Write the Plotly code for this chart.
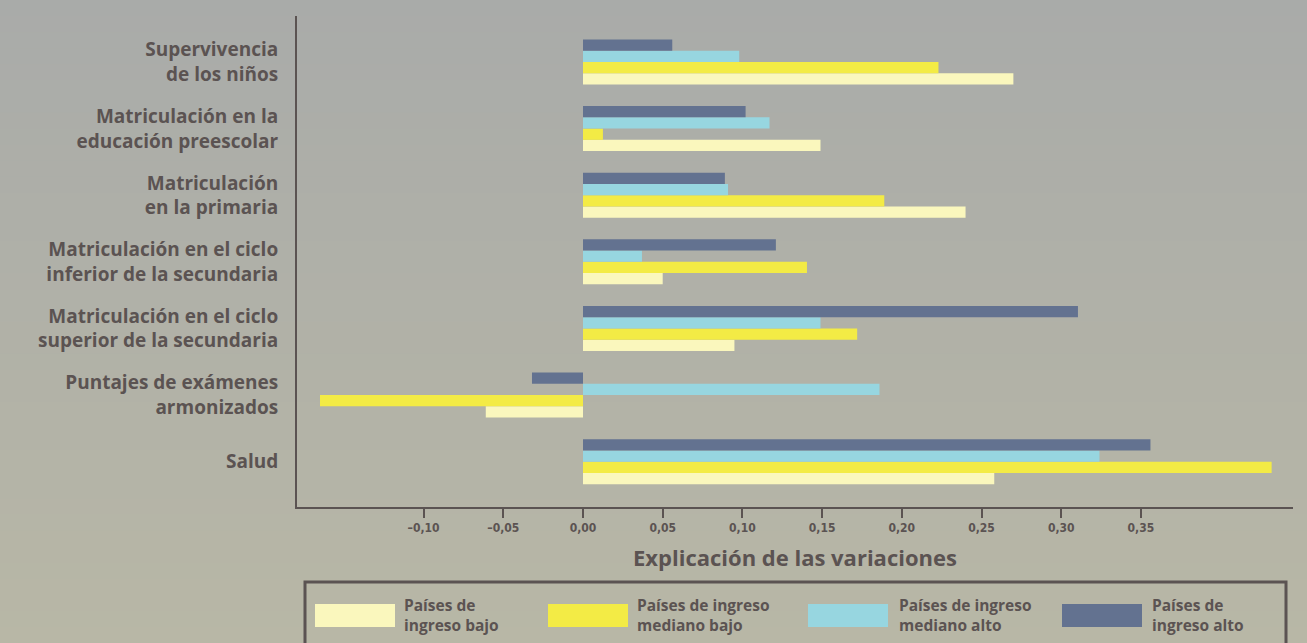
import plotly.graph_objects as go

categories = [
    "Supervivencia<br>de los niños",
    "Matriculación en la<br>educación preescolar",
    "Matriculación<br>en la primaria",
    "Matriculación en el ciclo<br>inferior de la secundaria",
    "Matriculación en el ciclo<br>superior de la secundaria",
    "Puntajes de exámenes<br>armonizados",
    "Salud",
]
series_names = [
    "Países de<br>ingreso bajo",
    "Países de ingreso<br>mediano bajo",
    "Países de ingreso<br>mediano alto",
    "Países de<br>ingreso alto",
]
ingreso_bajo = [0.270, 0.149, 0.240, 0.050, 0.095, -0.061, 0.258]
mediano_bajo = [0.223, 0.0125, 0.189, 0.1405, 0.172, -0.165, 0.432]
mediano_alto = [0.098, 0.117, 0.091, 0.037, 0.149, 0.186, 0.324]
ingreso_alto = [0.056, 0.102, 0.089, 0.121, 0.3105, -0.032, 0.356]
series_values = [ingreso_bajo, mediano_bajo, mediano_alto, ingreso_alto]
colors = ["#faf7bd", "#f3eb45", "#97d6e0", "#637290"]

tick_vals = [-0.10, -0.05, 0.0, 0.05, 0.10, 0.15, 0.20, 0.25, 0.30, 0.35]
tick_text = ["–0,10", "–0,05", "0,00", "0,05", "0,10", "0,15", "0,20", "0,25", "0,30", "0,35"]

W, H = 1307, 643
L, R, T, B = 297, 1293, 16, 507
TXT = "#5b5352"
FONT = "Open Sans"


def px(x):
    return (x - L) / (R - L)


def py(y):
    return (B - y) / (B - T)


fig = go.Figure()
for name, vals, col in zip(series_names, series_values, colors):
    fig.add_trace(go.Bar(
        y=categories, x=vals, orientation="h", name=name,
        marker=dict(color=col, line=dict(width=0)), showlegend=False,
    ))

shapes = []
# background gradient
top_c = (169, 171, 169)
bot_c = (184, 183, 166)
n = 40
for i in range(n):
    ya = H * i / n
    yb = H * (i + 1) / n + 1
    t = (i + 0.5) / n
    c = tuple(int(round(top_c[k] + (bot_c[k] - top_c[k]) * t)) for k in range(3))
    shapes.append(dict(type="rect", xref="paper", yref="paper", layer="below",
                       x0=px(-5), x1=px(W + 5), y0=py(yb), y1=py(ya),
                       fillcolor="rgb(%d,%d,%d)" % c, line=dict(width=0)))

# legend box
shapes.append(dict(type="rect", xref="paper", yref="paper",
                   x0=px(305), x1=px(1286), y0=py(655), y1=py(582),
                   line=dict(color=TXT, width=3), fillcolor="rgba(0,0,0,0)"))

annotations = []
sw_x = [315, 548, 808, 1062]
tx_x = [402, 635, 897, 1150]
for sx, tx, name, col in zip(sw_x, tx_x, series_names, colors):
    shapes.append(dict(type="rect", xref="paper", yref="paper",
                       x0=px(sx), x1=px(sx + 80), y0=py(627), y1=py(604),
                       fillcolor=col, line=dict(width=0)))
    annotations.append(dict(x=px(tx), y=py(615), xref="paper", yref="paper",
                            text="<b>%s</b>" % name, showarrow=False,
                            xanchor="left", yanchor="middle", align="left",
                            font=dict(family=FONT, size=15.5, color=TXT)))

annotations.append(dict(x=0.5, y=py(557), xref="paper", yref="paper",
                        text="<b>Explicación de las variaciones</b>", showarrow=False,
                        xanchor="center", yanchor="middle",
                        font=dict(family=FONT, size=22, color=TXT)))

fig.update_layout(
    width=W, height=H,
    margin=dict(l=L, r=W - R, t=T, b=H - B, pad=0),
    paper_bgcolor="#b0b1a7", plot_bgcolor="rgba(0,0,0,0)",
    barmode="group", bargap=0.324, bargroupgap=0,
    shapes=shapes, annotations=annotations,
    showlegend=False,
    font=dict(family=FONT, color=TXT),
)
fig.update_xaxes(
    range=[(L - 583) / 1594, (R - 583) / 1594],
    tickvals=tick_vals, ticktext=tick_text,
    ticks="outside", ticklen=9, tickwidth=2, tickcolor=TXT,
    showgrid=False, zeroline=False,
    showline=True, linecolor=TXT, linewidth=2,
    tickfont=dict(family="DejaVu Sans Condensed, Liberation Sans Narrow, Open Sans",
                  size=12, color=TXT, weight="bold"),
)
fig.update_yaxes(
    categoryorder="array", categoryarray=categories[::-1],
    range=[-0.68, 6.69],
    showgrid=False, zeroline=False,
    showline=True, linecolor=TXT, linewidth=2,
    ticks="", ticklabelstandoff=13,
    tickfont=dict(family=FONT, size=19, color=TXT, weight="bold"),
)

fig.write_html("out.html", config={"displayModeBar": False},
               post_script="document.body.style.margin='0px';document.body.style.overflow='hidden';")
